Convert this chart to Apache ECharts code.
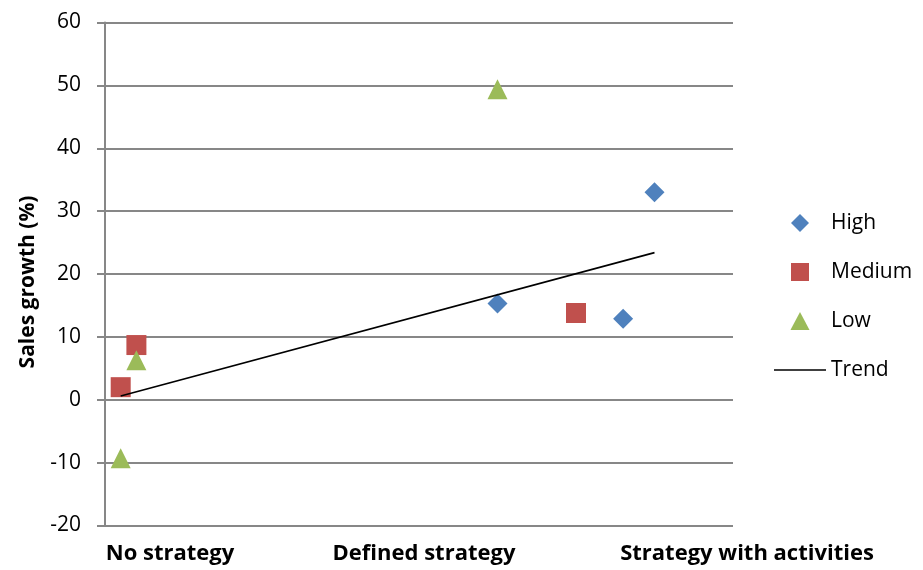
<!DOCTYPE html>
<html lang="en">
<head>
  <meta charset="UTF-8">
  <title>Sales growth by strategy</title>
  <style>
    html, body { margin: 0; padding: 0; background: #fff; }
    #chart { width: 923px; height: 570px; }
  </style>
</head>
<body>
  <div id="chart"></div>
  <script src="https://cdn.jsdelivr.net/npm/echarts@6/dist/echarts.min.js"></script>
  <script>
    // x position of each point (arbitrary strategy scale, 0..4), y = sales growth (%)
    const highX = [2.5, 3.3, 3.5]
    const highY = [15.3, 12.9, 33.0]
    const mediumX = [0.1, 0.2, 3.0]
    const mediumY = [2.0, 8.7, 13.8]
    const lowX = [0.1, 0.2, 2.5]
    const lowY = [-9.3, 6.3, 49.4]
    const trendX = [0.1, 3.5]
    const trendY = [0.6, 23.4]

    const categories = ['No strategy', 'Defined strategy', 'Strategy with activities']
    const yTicks = [-20, -10, 0, 10, 20, 30, 40, 50, 60]

    const FONT = 'Open Sans'
    const GRID = '#878787'

    // legend icons as paths so they keep their shape inside the wide legend slot
    const ICON_DIAMOND = 'path://M9,0L18,9L9,18L0,9Z'
    const ICON_SQUARE = 'path://M0,0H18V18H0Z'
    const ICON_TRIANGLE = 'path://M9,0L18,17H0Z'
    const ICON_LINE = 'path://M0,0H52V1.5H0Z'

    const chart = echarts.init(document.getElementById('chart'))

    function pairs (xs, ys) {
      return xs.map((x, i) => [x, ys[i]])
    }

    // category captions under the plot (same spots as the original)
    const labelSpots = [170, 424, 747]

    chart.setOption({
      animation: false,
      backgroundColor: '#fff',
      textStyle: { fontFamily: FONT },
      grid: { left: 105, top: 22.5, width: 628, height: 503, containLabel: false },
      legend: {
        orient: 'vertical',
        left: 774,
        top: 211,
        padding: 0,
        itemWidth: 52,
        itemHeight: 18,
        itemGap: 25,
        symbolKeepAspect: true,
        textStyle: { fontFamily: FONT, fontSize: 21, color: '#000', lineHeight: 24 },
        data: [
          { name: 'High', icon: ICON_DIAMOND },
          { name: 'Medium', icon: ICON_SQUARE },
          { name: 'Low', icon: ICON_TRIANGLE },
          { name: 'Trend', icon: ICON_LINE, itemStyle: { color: '#000' } }
        ]
      },
      xAxis: {
        type: 'value',
        min: 0,
        max: 4,
        axisLine: { show: false },
        axisTick: { show: false },
        axisLabel: { show: false },
        splitLine: { show: false }
      },
      yAxis: {
        type: 'value',
        min: yTicks[0],
        max: yTicks[yTicks.length - 1],
        interval: 10,
        name: 'Sales growth (%)',
        nameLocation: 'middle',
        nameGap: 66,
        nameTextStyle: {
          fontFamily: FONT, fontSize: 21, fontWeight: 'bold', color: '#000',
          padding: [0, 16, 0, 0]
        },
        axisLine: { show: true, onZero: false, lineStyle: { color: GRID, width: 2 } },
        axisTick: { show: true, inside: false, length: 8, lineStyle: { color: GRID, width: 2 } },
        axisLabel: { margin: 24, fontFamily: FONT, fontSize: 21, color: '#000' },
        splitLine: { show: true, lineStyle: { color: GRID, width: 2 } }
      },
      series: [
        {
          name: 'High', type: 'scatter', symbol: 'diamond', symbolSize: 20,
          itemStyle: { color: '#4f81bd', opacity: 1 }, data: pairs(highX, highY), z: 3
        },
        {
          name: 'Medium', type: 'scatter', symbol: 'rect', symbolSize: 20,
          itemStyle: { color: '#c0504d', opacity: 1 }, data: pairs(mediumX, mediumY), z: 3
        },
        {
          name: 'Low', type: 'scatter', symbol: 'triangle', symbolSize: 20,
          itemStyle: { color: '#9bbb59', opacity: 1 }, data: pairs(lowX, lowY), z: 3
        },
        {
          name: 'Trend', type: 'line', symbol: 'none', showSymbol: false,
          lineStyle: { color: '#000', width: 1.6 }, itemStyle: { color: '#000' },
          data: pairs(trendX, trendY), z: 4
        }
      ],
      graphic: categories.map((name, i) => ({
        type: 'text',
        x: labelSpots[i],
        y: 554,
        style: {
          text: name,
          fontFamily: FONT,
          fontSize: 22,
          fontWeight: 'bold',
          fill: '#000',
          align: 'center',
          verticalAlign: 'middle'
        }
      }))
    })
  </script>
</body>
</html>
